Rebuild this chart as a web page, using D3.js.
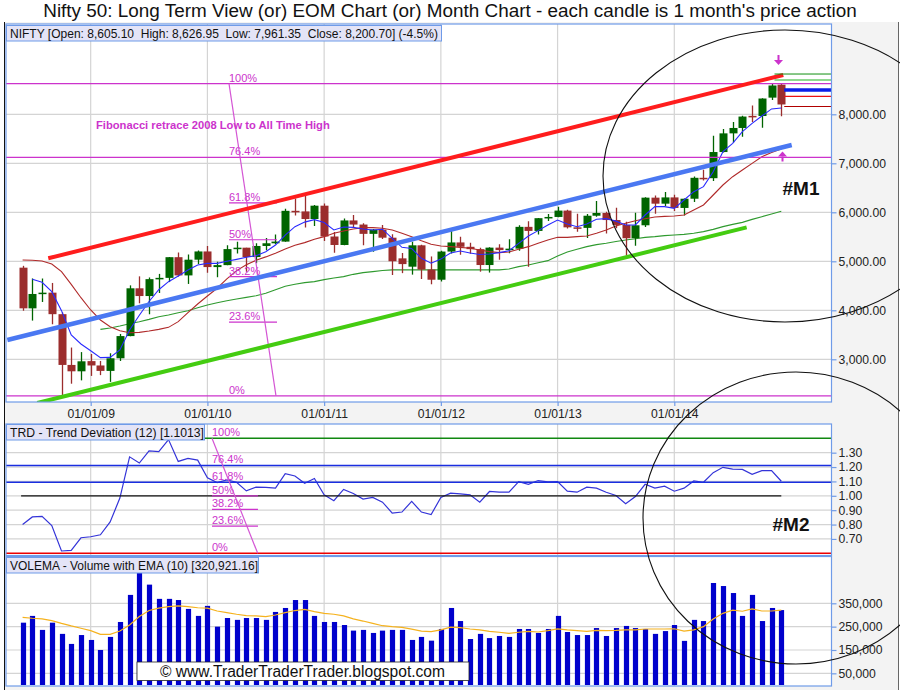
<!DOCTYPE html>
<html><head><meta charset="utf-8">
<script src="https://cdn.jsdelivr.net/npm/d3@7/dist/d3.min.js"></script>
<style>
body{margin:0;background:#fff;}
svg{display:block;font-family:"Liberation Sans",Arial,sans-serif;}
</style></head><body>
<svg id="c" width="900" height="690"></svg>
<script>
// ---------------- DATA ----------------
const months = ["2008-06","2008-07","2008-08","2008-09","2008-10","2008-11","2008-12",
"2009-01","2009-02","2009-03","2009-04","2009-05","2009-06","2009-07","2009-08","2009-09","2009-10","2009-11","2009-12",
"2010-01","2010-02","2010-03","2010-04","2010-05","2010-06","2010-07","2010-08","2010-09","2010-10","2010-11","2010-12",
"2011-01","2011-02","2011-03","2011-04","2011-05","2011-06","2011-07","2011-08","2011-09","2011-10","2011-11","2011-12",
"2012-01","2012-02","2012-03","2012-04","2012-05","2012-06","2012-07","2012-08","2012-09","2012-10","2012-11","2012-12",
"2013-01","2013-02","2013-03","2013-04","2013-05","2013-06","2013-07","2013-08","2013-09","2013-10","2013-11","2013-12",
"2014-01","2014-02","2014-03","2014-04","2014-05","2014-06","2014-07","2014-08","2014-09","2014-10","2014-11","2014-12"];

const opens = [4870,4040,4333,4360,3921,2885,2755,2963,2874,2763,
3021,3474,4449,4291,4636,4662,5084,4712,5033,5201,
4882,4922,5249,5278,5087,5313,5368,5402,6030,6018,
5863,6135,5506,5333,5834,5750,5560,5647,5482,5060,
4890,5326,4832,4624,5199,5385,5296,5248,4924,5279,
5229,5258,5703,5620,5880,5905,6035,5693,5682,5930,
5986,5842,5742,5471,5735,6299,6176,6304,6089,6277,
6704,6696,7230,7611,7721,7968,7965,8340,8605.10];
const highs = [4908,4650,4649,4558,3960,3240,3147,3110,2966,3123,
3517,4509,4693,4670,4743,5087,5181,5138,5221,5311,
4992,5329,5400,5278,5366,5478,5549,6073,6284,6339,
6147,6181,5599,5872,5944,5775,5657,5740,5551,5169,
5399,5340,5099,5217,5630,5499,5379,5279,5286,5348,
5448,5735,5815,5885,5965,6111,6052,5971,5963,6229,
6011,6093,5809,5990,6309,6342,6415,6358,6282,6730,
6869,7563,7700,7841,7968,8180,8330,8617,8626.95];
const lows = [3991,3790,4170,3715,2253,2502,2570,2661,2677,2539,
2966,3470,4143,3919,4353,4576,4687,4538,4943,4766,
4675,4920,5160,4786,4961,5225,5348,5400,5937,5690,
5721,5416,5177,5330,5693,5329,5195,5453,4720,4758,
4728,4639,4531,4588,5159,5135,5154,4788,4770,5032,
5164,5215,4888,5548,5823,5900,5671,5604,5477,5910,
5566,5675,5118,5318,5700,5972,6129,6027,5933,6212,
6650,6638,7220,7422,7540,7841,7723,8290,7961.35];
const closes = [4040,4333,4360,3921,2885,2755,2959,2874,2763,3021,
3474,4449,4291,4636,4662,5084,4712,5033,5201,4882,
4922,5249,5278,5087,5313,5368,5402,6030,6018,5863,
6135,5506,5333,5834,5750,5560,5647,5482,5001,4943,
5326,4832,4624,5199,5385,5296,5248,4924,5279,5229,
5258,5703,5620,5880,5905,6035,5693,5682,5930,5986,
5842,5742,5471,5735,6299,6176,6304,6089,6277,6704,
6696,7230,7611,7721,7954,7965,8322,8588,8200.70];

const fastMA = [null,4632,4571,4380,3993,3496,3312,3176,3034,3040,
3190,3598,3900,4180,4420,4584,4700,4822,4924,4958,
4958,5000,5040,5081,5115,5196,5332,5536,5706,5800,
5850,5790,5639,5700,5693,5659,5639,5655,5469,5285,
5260,5060,4960,5045,5170,5210,5170,5140,5149,5177,
5217,5367,5517,5626,5741,5843,5762,5707,5762,5857,
5870,5820,5741,5741,5945,6115,6115,6081,6251,6421,
6523,6829,7237,7407,7645,7815,7965,8110,8130];
const midMA = [5027,5020,5006,4945,4788,4530,4257,4006,3802,3666,
3584,3543,3550,3577,3611,3652,3768,3951,4128,4291,
4450,4640,4810,4930,5020,5090,5165,5251,5326,5381,
5449,5503,5571,5619,5660,5687,5687,5673,5639,5571,
5503,5421,5347,5313,5299,5285,5265,5231,5197,5177,
5190,5245,5299,5367,5435,5489,5489,5503,5517,5571,
5639,5721,5775,5829,5870,5904,5917,5924,5945,6047,
6149,6353,6557,6727,6863,6999,7135,7220,7290];
const slowMA = [null,null,null,null,null,null,null,null,3611,3638,
3679,3727,3768,3815,3870,3904,3951,3992,4053,4108,
4155,4196,4230,4264,4298,4346,4420,4490,4533,4564,
4585,4626,4660,4687,4734,4768,4789,4812,4825,4825,
4825,4825,4825,4825,4825,4825,4825,4825,4825,4825,
4843,4891,4925,4972,5013,5108,5190,5245,5299,5340,
5370,5405,5435,5460,5489,5503,5523,5537,5550,5571,
5605,5652,5707,5754,5795,5856,5911,5965,6020];

const trd = [0.80,0.853,0.857,0.793,0.616,0.62,0.708,0.715,0.729,0.818,
0.984,1.271,1.228,1.313,1.308,1.391,1.239,1.26,1.248,1.126,
1.092,1.11,1.094,1.034,1.06,1.058,1.053,1.154,1.138,1.087,
1.12,1.007,0.966,1.044,1.016,0.977,0.989,0.956,0.88,0.887,
0.961,0.887,0.869,0.989,1.018,1.014,1.007,0.956,1.03,1.025,
1.025,1.099,1.08,1.106,1.097,1.099,1.032,1.025,1.06,1.053,
1.025,1.002,0.945,0.995,1.08,1.053,1.067,1.032,1.053,1.103,
1.094,1.161,1.198,1.186,1.184,1.15,1.175,1.175,1.1013];

const volume = [267,296,236,267,219,176,214,193,150,206,
270,386,486,430,369,369,364,326,296,339,
250,287,279,287,287,279,313,330,364,364,
296,270,270,257,233,236,223,233,236,236,
193,206,190,240,330,274,197,219,201,210,
206,240,240,223,240,296,227,214,214,244,
210,244,253,244,240,219,231,257,189,279,
274,437,424,394,296,386,274,330,321]; // thousands
const volEMA = [290,286,283,276,264,253,243,233,217,217,
231,257,293,319,329,336,339,336,331,329,
317,310,303,297,296,293,300,310,319,324,
314,307,303,296,283,274,264,254,250,247,
239,231,229,236,248,246,240,236,230,226,
221,226,230,227,233,240,236,233,230,234,
233,234,236,236,240,240,240,241,231,236,
250,283,307,321,316,326,317,317,321]; // thousands

const yearIdx = [7,19,31,43,55,67];
const yearLabels = ["01/01/09","01/01/10","01/01/11","01/01/12","01/01/13","01/01/14"];
const priceTicks = [3000,4000,5000,6000,7000,8000];
const trdTicks = [0.7,0.8,0.9,1.0,1.1,1.2,1.3];
const volTicks = [50,150,250,350]; // thousands

const fibNames = ["0%","23.6%","38.2%","50%","61.8%","76.4%","100%"];
const fibPrice = [2252.75,3757.0,4687.7,5439.9,6191.9,7122.5,8626.95];
const fibTrd = [0.6,0.789,0.906,1.0,1.094,1.211,1.4];

// annotation lines in data coordinates [index, value]
const trendRed = [[2.64,5061],[78.2,8802]];
const trendBlue = [[-1.57,3394],[79.07,7373]];
const trendGreen = [[1.51,2108],[74.44,5692]];
const fibDiagMain = [[21.22,8626.95],[26.05,2252.75]];
const fibDiagTrd = [[19.47,1.4],[24.17,0.6]];
const sideLevels = [ {v:8822,c:"#109010",w:1,s:77.3}, {v:8700,c:"#20b020",w:1,s:77.3},
  {v:8496,c:"#0a1ee8",w:3.5,s:78.3}, {v:8367,c:"#ee1111",w:1.2,s:78.3}, {v:8159,c:"#b00000",w:1.2,s:78.3} ];

// ---------------- LAYOUT ----------------
const svg = d3.select("#c");
const L = 6, R = 831.5;
const main = {t:24, b:402}, tp = {t:424, b:555.5}, vp = {t:556.5, b:686};
const x = d3.scaleLinear().domain([0, months.length - 1]).range([22.6, 781.3]);
const yP = d3.scaleLinear().domain([3000, 8000]).range([359.3, 114.3]);
const yT = d3.scaleLinear().domain([0.6, 1.4]).range([553.3, 438.3]);
const yV = d3.scaleLinear().domain([0, 350]).range([685, 603.3]);
const idx = d3.range(months.length);

const C = {grid:"#d4d4d4", border:"#6f9be8", fib:"#cc33cc", up:"#006400", dn:"#9b2d2d"};

svg.append("rect").attr("x",0).attr("y",0).attr("width",900).attr("height",690).attr("fill","#fff");
svg.append("rect").attr("x",5).attr("y",22).attr("width",894).attr("height",668).attr("fill","#f3f3f3");
svg.append("line").attr("x1",4.5).attr("x2",4.5).attr("y1",22).attr("y2",690).attr("stroke","#111");
svg.append("line").attr("x1",898.5).attr("x2",898.5).attr("y1",22).attr("y2",690).attr("stroke","#666");

svg.append("text").attr("x",450).attr("y",17).attr("text-anchor","middle")
  .attr("font-size",18.9).attr("fill","#111")
  .text("Nifty 50: Long Term View (or) EOM Chart (or) Month Chart - each candle is 1 month's price action");

const defs = svg.append("defs");
function panel(id, p){
  defs.append("clipPath").attr("id",id).append("rect").attr("x",L).attr("y",p.t).attr("width",R-L).attr("height",p.b-p.t);
  svg.append("rect").attr("x",L).attr("y",p.t).attr("width",R-L).attr("height",p.b-p.t).attr("fill","#fff");
  return svg.append("g").attr("clip-path",`url(#${id})`);
}
const gM = panel("cm", main), gT = panel("ct", tp), gV = panel("cv", vp);

// vertical grid
[gM,gT,gV].forEach((g,k)=>{
  const p=[main,tp,vp][k];
  g.selectAll(null).data(yearIdx).join("line")
    .attr("x1",d=>x(d)).attr("x2",d=>x(d)).attr("y1",p.t).attr("y2",p.b)
    .attr("stroke",C.grid).attr("stroke-width",1.2);
});
gM.selectAll(null).data(priceTicks).join("line").attr("x1",L).attr("x2",R)
  .attr("y1",d=>yP(d)).attr("y2",d=>yP(d)).attr("stroke",C.grid).attr("stroke-width",1.2);
gT.selectAll(null).data(trdTicks).join("line").attr("x1",L).attr("x2",R)
  .attr("y1",d=>yT(d)).attr("y2",d=>yT(d)).attr("stroke",C.grid).attr("stroke-width",1.2);
gV.selectAll(null).data(volTicks).join("line").attr("x1",L).attr("x2",R)
  .attr("y1",d=>yV(d)).attr("y2",d=>yV(d)).attr("stroke",C.grid).attr("stroke-width",1.2);

// ---- main panel ----
const lineP = (arr)=> d3.line().defined(i=>arr[i]!=null).x(i=>x(i)).y(i=>yP(arr[i]));
gM.append("path").attr("d",lineP(slowMA)(idx)).attr("fill","none").attr("stroke","#2f9a2f").attr("stroke-width",1.1);

// candles
const cw = 8;
const cg = gM.append("g");
cg.selectAll("line.w").data(idx).join("line").attr("class","w")
  .attr("x1",i=>Math.round(x(i))+0.5).attr("x2",i=>Math.round(x(i))+0.5)
  .attr("y1",i=>yP(highs[i])).attr("y2",i=>yP(lows[i]))
  .attr("stroke",i=>closes[i]>=opens[i]?C.up:C.dn).attr("stroke-width",1.3);
cg.selectAll("rect").data(idx).join("rect")
  .attr("x",i=>Math.round(x(i))+0.5-cw/2).attr("width",cw)
  .attr("y",i=>yP(Math.max(opens[i],closes[i])))
  .attr("height",i=>Math.max(1.5,Math.abs(yP(opens[i])-yP(closes[i]))))
  .attr("fill",i=>closes[i]>=opens[i]?C.up:C.dn);

gM.append("path").attr("d",lineP(midMA)(idx)).attr("fill","none").attr("stroke","#b02a2a").attr("stroke-width",1.1);
gM.append("path").attr("d",lineP(fastMA)(idx)).attr("fill","none").attr("stroke","#2a2aff").attr("stroke-width",1.1);

// fib (main)
const fullMain = [0,5,6];
fibPrice.forEach((v,k)=>{
  const full = fullMain.includes(k);
  gM.append("line").attr("x1",full?L:x(fibDiagMain[0][0])).attr("x2",full?R:x(fibDiagMain[0][0])+48)
    .attr("y1",yP(v)).attr("y2",yP(v)).attr("stroke",C.fib).attr("stroke-width",1.2);
  gM.append("text").attr("x",x(fibDiagMain[0][0])).attr("y",yP(v)-2).attr("font-size",11)
    .attr("fill",C.fib).text(fibNames[k]);
});
gM.append("line").attr("x1",x(fibDiagMain[0][0])).attr("y1",yP(fibDiagMain[0][1]))
  .attr("x2",x(fibDiagMain[1][0])).attr("y2",yP(fibDiagMain[1][1])).attr("stroke","#d455d4").attr("stroke-width",1.2);
gM.append("text").attr("x",96).attr("y",129).attr("font-size",11.2).attr("font-weight","bold")
  .attr("fill",C.fib).text("Fibonacci retrace 2008 Low to All Time High");

// trend lines
[[trendRed,"#ff1d1d",4],[trendBlue,"#4a78f2",4.5],[trendGreen,"#44cc11",4]].forEach(([t,c,w])=>{
  gM.append("line").attr("x1",x(t[0][0])).attr("y1",yP(t[0][1])).attr("x2",x(t[1][0])).attr("y2",yP(t[1][1]))
    .attr("stroke",c).attr("stroke-width",w);
});
// side level marks
sideLevels.forEach(s=>{
  gM.append("line").attr("x1",x(s.s)).attr("x2",R).attr("y1",yP(s.v)).attr("y2",yP(s.v))
    .attr("stroke",s.c).attr("stroke-width",s.w);
});

// arrows
function arrow(cx, tipY, dir){
  const g = gM.append("g").attr("fill",C.fib).attr("stroke",C.fib);
  const hb = tipY - dir*5;
  g.append("path").attr("d",`M${cx},${tipY} L${cx-4.5},${hb} L${cx+4.5},${hb} Z`).attr("stroke","none");
  g.append("line").attr("x1",cx).attr("x2",cx).attr("y1",hb).attr("y2",hb-dir*5).attr("stroke-width",2);
}
arrow(778.5, 65, 1);
arrow(782.5, 151.5, -1);

// header boxes
function header(p, w, tw, txt){
  svg.append("rect").attr("x",L+0.5).attr("y",p+0.5).attr("width",w).attr("height",15.5)
    .attr("fill","#e4e4f7").attr("stroke",C.border);
  svg.append("text").attr("x",L+4).attr("y",p+12.8).attr("font-size",12.2).attr("fill","#111")
    .style("white-space","pre").attr("textLength",tw).attr("lengthAdjust","spacingAndGlyphs").text(txt);
}

// ---- TRD panel ----
gT.append("path").attr("d",d3.line().x(i=>x(i)).y(i=>yT(trd[i]))(idx)).attr("fill","none")
  .attr("stroke","#3434d8").attr("stroke-width",1.2);
gT.append("line").attr("x1",x(0)-1.5).attr("x2",x(78)).attr("y1",yT(1.0)).attr("y2",yT(1.0)).attr("stroke","#111").attr("stroke-width",1.2);
const trdFull = {0:"#ee0000",4:"#1a2ee0",5:"#1a2ee0",6:"#108810"};
fibTrd.forEach((v,k)=>{
  if (trdFull[k]) {
    gT.append("line").attr("x1",L).attr("x2",R).attr("y1",yT(v)).attr("y2",yT(v)).attr("stroke",trdFull[k]).attr("stroke-width",1.5);
  } else {
    gT.append("line").attr("x1",x(fibDiagTrd[0][0])).attr("x2",x(fibDiagTrd[0][0])+46)
      .attr("y1",yT(v)).attr("y2",yT(v)).attr("stroke",C.fib).attr("stroke-width",1.2);
  }
  gT.append("text").attr("x",x(fibDiagTrd[0][0])).attr("y",yT(v)-2).attr("font-size",11)
    .attr("fill",C.fib).text(fibNames[k]);
});
gT.append("line").attr("x1",x(fibDiagTrd[0][0])).attr("y1",yT(fibDiagTrd[0][1]))
  .attr("x2",x(fibDiagTrd[1][0])).attr("y2",yT(fibDiagTrd[1][1])).attr("stroke","#d455d4").attr("stroke-width",1.2);

// ---- Volume panel ----
gV.selectAll("rect.v").data(idx).join("rect").attr("class","v")
  .attr("x",i=>Math.round(x(i))+0.5-2.6).attr("width",5.2)
  .attr("y",i=>yV(volume[i])).attr("height",i=>yV(0)-yV(volume[i])).attr("fill","#0000cc");
gV.append("path").attr("d",d3.line().x(i=>x(i)).y(i=>yV(volEMA[i]))(idx)).attr("fill","none")
  .attr("stroke","#f5b21e").attr("stroke-width",1.2);
svg.append("rect").attr("x",137).attr("y",662).attr("width",332).attr("height",18.5)
  .attr("fill","#fff").attr("stroke","#222").attr("stroke-width",0.8);
svg.append("text").attr("x",160).attr("y",676.5).attr("font-size",16).attr("fill","#111")
  .attr("textLength",285).attr("lengthAdjust","spacingAndGlyphs")
  .text("\u00A9 www.TraderTraderTrader.blogspot.com");

// panel borders
[main,tp,vp].forEach(p=>{
  svg.append("rect").attr("x",L).attr("y",p.t).attr("width",R-L).attr("height",p.b-p.t)
    .attr("fill","none").attr("stroke",C.border).attr("stroke-width",1.2);
});
header(25, 435, 428, "NIFTY [Open: 8,605.10  High: 8,626.95  Low: 7,961.35  Close: 8,200.70] (-4.5%)");
header(424, 198, 194, "TRD - Trend Deviation (12) [1.1013]");
header(557, 252, 248, "VOLEMA - Volume with EMA (10) [320,921.16]");

// ---- axes ----
function styleAxis(g){
  g.select(".domain").remove();
  g.selectAll(".tick line").attr("stroke",C.border).attr("stroke-width",1.2);
  g.selectAll(".tick text").attr("font-size",12.2).attr("fill","#222")
    .attr("font-family","'Liberation Sans',Arial,sans-serif");
}
svg.append("g").attr("transform",`translate(${R},0)`)
  .call(d3.axisRight(yP).tickValues(priceTicks).tickSize(5).tickPadding(2).tickFormat(d3.format(",.2f"))).call(styleAxis);
svg.append("g").attr("transform",`translate(${R},0)`)
  .call(d3.axisRight(yT).tickValues(trdTicks).tickSize(5).tickPadding(2).tickFormat(d3.format(".2f"))).call(styleAxis);
svg.append("g").attr("transform",`translate(${R},0)`)
  .call(d3.axisRight(yV).tickValues(volTicks).tickSize(5).tickPadding(2).tickFormat(d=>d3.format(",")(d*1000))).call(styleAxis);
svg.append("g").attr("transform",`translate(0,${main.b})`)
  .call(d3.axisBottom(x).tickValues(yearIdx).tickSize(4).tickPadding(3).tickFormat((d,i)=>yearLabels[i])).call(styleAxis);

// ---- annotations ----
svg.append("ellipse").attr("cx",785).attr("cy",176).attr("rx",182).attr("ry",146)
  .attr("fill","none").attr("stroke","#111").attr("stroke-width",1.1);
svg.append("ellipse").attr("cx",796).attr("cy",518).attr("rx",153).attr("ry",146)
  .attr("fill","none").attr("stroke","#111").attr("stroke-width",1.1);
svg.append("text").attr("x",801).attr("y",195).attr("text-anchor","middle").attr("font-size",19)
  .attr("font-weight","bold").attr("fill","#111").text("#M1");
svg.append("text").attr("x",791).attr("y",531).attr("text-anchor","middle").attr("font-size",19)
  .attr("font-weight","bold").attr("fill","#111").text("#M2");
</script>
</body></html>
